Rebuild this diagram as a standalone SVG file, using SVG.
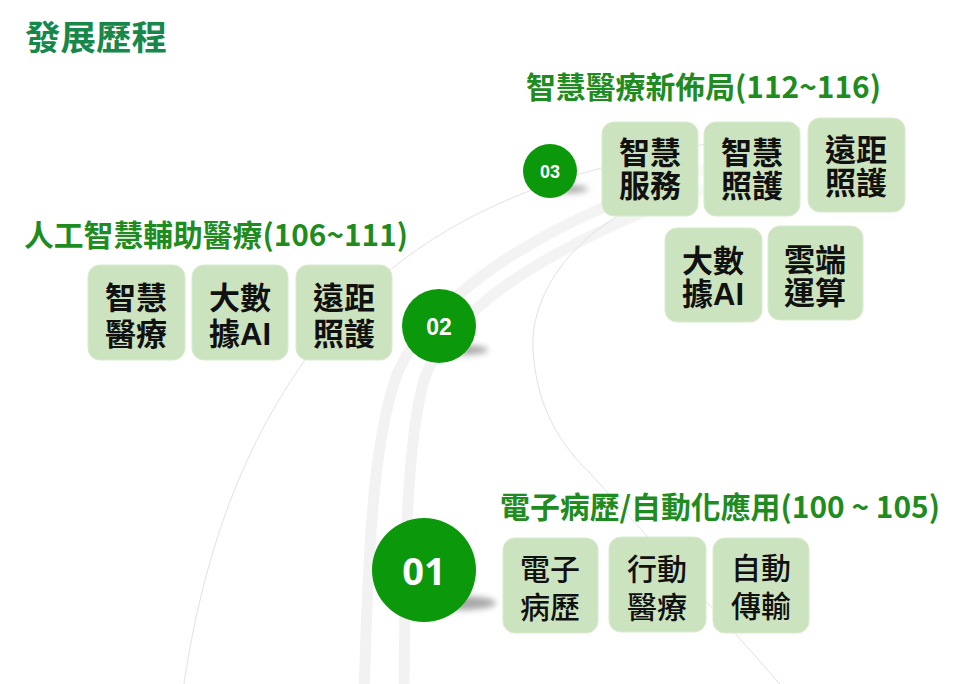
<svg xmlns="http://www.w3.org/2000/svg" width="960" height="684" viewBox="0 0 960 684">
<defs>
<filter id="blur" x="-50%" y="-100%" width="200%" height="300%"><feGaussianBlur stdDeviation="3"/></filter>
<linearGradient id="fade" gradientUnits="userSpaceOnUse" x1="380" y1="0" x2="760" y2="0">
<stop offset="0" stop-color="#f2f2f2"/><stop offset="0.75" stop-color="#f4f4f4"/><stop offset="1" stop-color="#ffffff"/>
</linearGradient>
<style>
.title{font-family:"Noto Sans CJK TC","Noto Sans CJK SC",sans-serif;font-size:34px;font-weight:700;fill:#17884a}
.head{font-family:"Noto Sans CJK TC","Noto Sans CJK SC",sans-serif;font-size:30px;font-weight:700;fill:#1f8c1f}
.box{fill:#cbe4bf;stroke:#d6ebcc;stroke-width:1}
.bt{font-family:"Liberation Sans","Noto Sans CJK TC",sans-serif;font-size:31px;font-weight:700;fill:#111;text-anchor:middle}
.bt1{font-family:"Liberation Sans","Noto Sans CJK TC",sans-serif;font-size:30px;font-weight:500;fill:#111;text-anchor:middle}
.circ{fill:#0b980b}
.num{font-family:"Liberation Sans",sans-serif;font-weight:700;fill:#fff;text-anchor:middle}
.num1{font-family:"Open Sans","Liberation Sans",sans-serif;font-weight:700;fill:#fff;text-anchor:middle}
.shadow{fill:#8a8a8a;opacity:0.75;filter:url(#blur)}
.band{fill:none;stroke:url(#fade);stroke-width:11}
.thin{fill:none;stroke:#e2e2e2;stroke-width:1}
</style>
</defs>
<rect width="960" height="684" fill="#fff"/>

<g id="background-road">
<path class="band" d="M364,694 C368,560 372,440 398,372 C430,300 520,240 640,192 C680,176 720,164 760,154"/>
<path class="band" d="M404,694 C405,560 406,445 424,380 C450,310 540,255 655,207 C690,193 725,182 760,172"/>
<path class="thin" d="M183,690 C205,540 250,430 320,340 C390,255 470,210 560,180 C640,155 720,140 800,128"/>
<path class="thin" d="M625,212 C565,245 530,300 533,350 C536,400 555,440 590,473 C650,540 720,615 785,690"/>
</g>

<g id="connectors"></g>

<text class="title" x="25" y="50" textLength="142" lengthAdjust="spacingAndGlyphs">發展歷程</text>

<g id="stage-03">
<ellipse class="shadow" cx="566" cy="189" rx="22" ry="4"/>
<circle class="circ" cx="550" cy="171" r="27"/>
<text class="num" x="550" y="178" font-size="18">03</text>
<text class="head" x="526" y="98" textLength="355" lengthAdjust="spacingAndGlyphs">智慧醫療新佈局(112~116)</text>
</g>
<g id="box-3-1"><rect class="box" x="602" y="122" width="96" height="94" rx="12"/><text class="bt" x="650" y="164">智慧</text><text class="bt" x="650" y="197">服務</text></g>
<g id="box-3-2"><rect class="box" x="704" y="122" width="96" height="94" rx="12"/><text class="bt" x="752" y="164">智慧</text><text class="bt" x="752" y="197">照護</text></g>
<g id="box-3-3"><rect class="box" x="808" y="118" width="97" height="94" rx="12"/><text class="bt" x="856" y="161">遠距</text><text class="bt" x="856" y="194">照護</text></g>
<g id="box-3-4"><rect class="box" x="665" y="228" width="97" height="94" rx="12"/><text class="bt" x="713" y="272">大數</text><text class="bt" x="713" y="305">據AI</text></g>
<g id="box-3-5"><rect class="box" x="768" y="226" width="95" height="94" rx="12"/><text class="bt" x="815" y="271">雲端</text><text class="bt" x="815" y="304">運算</text></g>

<g id="stage-02">
<ellipse class="shadow" cx="460" cy="350" rx="28" ry="5"/>
<circle class="circ" cx="439" cy="326" r="37"/>
<text class="num" x="439" y="335" font-size="23">02</text>
<text class="head" x="24" y="246" textLength="384" lengthAdjust="spacingAndGlyphs">人工智慧輔助醫療(106~111)</text>
</g>
<g id="box-2-1"><rect class="box" x="88" y="265" width="97" height="95" rx="12"/><text class="bt" x="136" y="309">智慧</text><text class="bt" x="136" y="345">醫療</text></g>
<g id="box-2-2"><rect class="box" x="192" y="265" width="96" height="95" rx="12"/><text class="bt" x="240" y="309">大數</text><text class="bt" x="240" y="345">據AI</text></g>
<g id="box-2-3"><rect class="box" x="296" y="265" width="96" height="95" rx="12"/><text class="bt" x="344" y="309">遠距</text><text class="bt" x="344" y="345">照護</text></g>

<g id="stage-01">
<ellipse class="shadow" cx="458" cy="603" rx="38" ry="7"/>
<circle class="circ" cx="424" cy="570" r="52"/>
<text class="num1" x="424" y="585" font-size="38">01</text>
<text class="head" x="500" y="518" font-size="28" font-weight="500" textLength="440" lengthAdjust="spacingAndGlyphs">電子病歷/自動化應用(100 ~ 105)</text>
</g>
<g id="box-1-1"><rect class="box" x="503" y="538" width="95" height="95" rx="12"/><text class="bt1" x="550" y="580">電子</text><text class="bt1" x="550" y="618">病歷</text></g>
<g id="box-1-2"><rect class="box" x="609" y="537" width="97" height="95" rx="12"/><text class="bt1" x="657" y="580">行動</text><text class="bt1" x="657" y="618">醫療</text></g>
<g id="box-1-3"><rect class="box" x="713" y="538" width="96" height="95" rx="12"/><text class="bt1" x="761" y="579">自動</text><text class="bt1" x="761" y="617">傳輸</text></g>
</svg>
